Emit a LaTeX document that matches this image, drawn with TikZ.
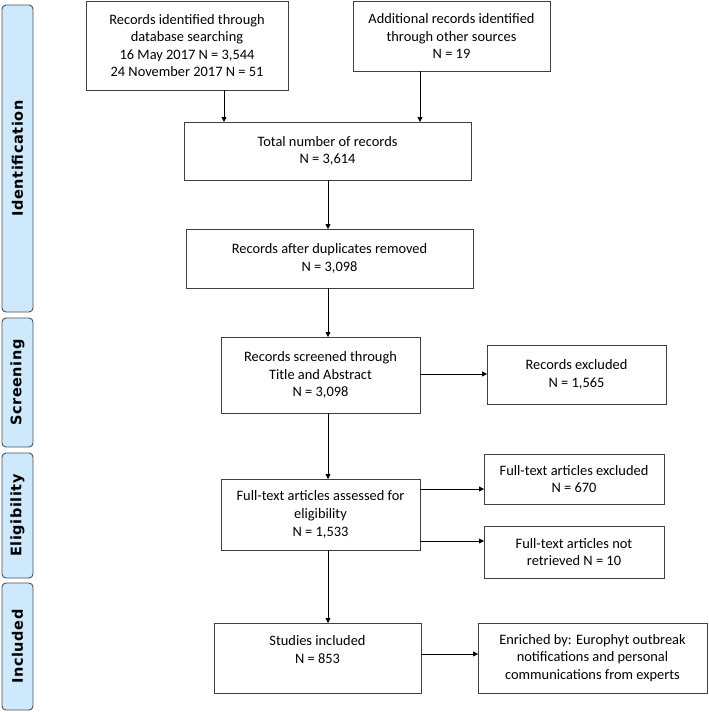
\documentclass[tikz,border=0pt]{standalone}
\usepackage{fontspec}
\setmainfont{Carlito}
\newfontfamily\lanefont[LetterSpace=4]{DejaVu Sans}
\usetikzlibrary{arrows.meta}
\definecolor{boxline}{RGB}{64,64,64}
\definecolor{lanefill}{RGB}{207,233,252}
\definecolor{laneline}{RGB}{70,80,90}
\begin{document}
\begin{tikzpicture}[x=1pt,y=-1pt,
 box/.style={draw=boxline,line width=0.9pt,align=center,inner sep=0pt,outer sep=0pt,font=\fontsize{14.4}{17.6}\selectfont},
 lane/.style={draw=laneline,fill=lanefill,rounded corners=4pt,line width=0.9pt,rotate=90,inner sep=0pt,outer sep=0pt,minimum height=31pt,font=\lanefont\bfseries\fontsize{14.5}{17}\selectfont},
 arr/.style={draw=black,line width=0.8pt,-{Triangle[length=5pt,width=5pt]}}]
\useasboundingbox (0,0) rectangle (709,712);
% lanes
\node[lane,minimum width=307pt] (l1) at (17.5,158.5) {Identification};
\node[lane,minimum width=129pt] (l2) at (17.5,382.5) {Screening};
\node[lane,minimum width=125pt] (l3) at (17.5,515.5) {Eligibility};
\node[lane,minimum width=127pt] (l4) at (17.5,646.5) {Included};
% boxes
\node[box,minimum width=202pt,minimum height=89pt] (b1) at (187,45.5) {Records identified through\\database searching\\16 May 2017 N = 3,544\\24 November 2017 N = 51};
\node[box,minimum width=197pt,minimum height=70pt] (b2) at (451.5,36) {Additional records identified\\through other sources\\N = 19};
\node[box,minimum width=287pt,minimum height=58pt] (b3) at (327.5,151) {Total number of records\\N = 3,614};
\node[box,minimum width=287pt,minimum height=59pt] (b4) at (329.5,258.5) {Records after duplicates removed\\N = 3,098};
\node[box,minimum width=199pt,minimum height=76pt] (b5) at (320.5,375) {Records screened through\\Title and Abstract\\N = 3,098};
\node[box,minimum width=179pt,minimum height=59pt] (b6) at (576.5,374.5) {Records excluded\\N = 1,565};
\node[box,minimum width=199pt,minimum height=71pt] (b7) at (320.5,514.5) {Full-text articles assessed for\\eligibility\\N = 1,533};
\node[box,minimum width=180pt,minimum height=50pt] (b8) at (574,479) {Full-text articles excluded\\N = 670};
\node[box,minimum width=180pt,minimum height=52pt] (b9) at (574,552) {Full-text articles not\\retrieved N = 10};
\node[box,minimum width=207pt,minimum height=70pt] (b10) at (317.5,658) {Studies included\\N = 853\\\mbox{}};
\node[box,minimum width=229pt,minimum height=70pt] (b11) at (592.5,658) {Enriched by: Europhyt outbreak\\notifications and personal\\communications from experts};
% guide coordinates
\coordinate (x1) at (224,0);
\coordinate (x2) at (420,0);
\coordinate (x3) at (328,0);
\coordinate (y5) at (0,374);
\coordinate (y8) at (0,489);
\coordinate (y9) at (0,541);
\coordinate (y11) at (0,654);
% connectors
\draw[arr] (b1.south -| x1) -- (b3.north -| x1);
\draw[arr] (b2.south -| x2) -- (b3.north -| x2);
\draw[arr] (b3.south -| x3) -- (b4.north -| x3);
\draw[arr] (b4.south -| x3) -- (b5.north -| x3);
\draw[arr] (b5.south -| x3) -- (b7.north -| x3);
\draw[arr] (b7.south -| x3) -- (b10.north -| x3);
\draw[arr] (b5.east |- y5) -- (b6.west |- y5);
\draw[arr] (b7.east |- y8) -- (b8.west |- y8);
\draw[arr] (b7.east |- y9) -- (b9.west |- y9);
\draw[arr] (b10.east |- y11) -- (b11.west |- y11);
\end{tikzpicture}
\end{document}
